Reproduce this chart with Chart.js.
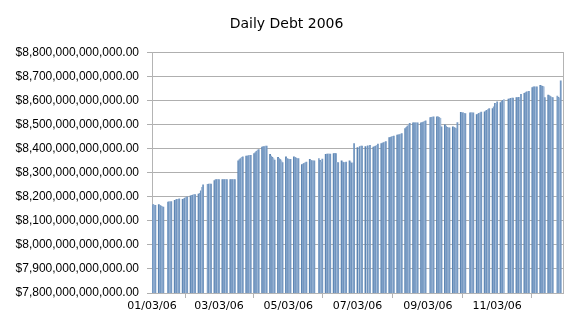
<!DOCTYPE html>
<html>
<head>
<meta charset="utf-8">
<title>Daily Debt 2006</title>
<script src="https://cdn.jsdelivr.net/npm/chart.js@4.4.1/dist/chart.umd.min.js"></script>
<style>
html, body { margin: 0; padding: 0; background: #fff; }
#wrap { width: 573px; height: 322px; }
</style>
</head>
<body>
<div id="wrap"><canvas id="debtChart" width="573" height="322"></canvas></div>
<script>

// -------------------------------------
// DATA (billions of dollars, one row per week, Mon..Fri, null = no figure)
// -------------------------------------

const firstMonday = "2006-01-02";

const weeklyDebt = [
[null, 8163, 8168, 8166, 8165],
[8168, 8165, 8162, 8160, 8158],
[null, 8178, 8180, 8180, 8181],
[8186, 8188, 8190, 8190, 8192],
[8190, 8192, 8195, 8198, 8200],
[8205, 8207, 8208, 8210, 8210],
[8212, 8215, 8225, 8240, 8250],
[null, 8252, 8253, 8253, 8253],
[8268, 8272, 8272, 8272, 8272],
[8272, 8272, 8272, 8272, 8272],
[8272, 8272, 8272, 8272, 8272],
[8350, 8355, 8360, 8365, 8367],
[8370, 8370, 8372, 8373, 8373],
[8380, 8385, 8390, 8395, 8397],
[8408, 8410, 8410, 8412, 8412],
[8377, 8370, 8365, 8360, 8353],
[8365, 8360, 8355, 8350, 8343],
[8367, 8360, 8358, 8356, 8356],
[8367, 8365, 8362, 8360, 8360],
[8335, 8337, 8340, 8343, 8345],
[8356, 8352, 8350, 8350, 8350],
[null, 8360, 8352, 8345, 8358],
[8377, 8378, 8378, 8378, 8378],
[8380, 8381, 8380, 8343, 8343],
[8350, 8345, 8343, 8343, 8345],
[8350, 8345, 8340, 8342, 8422],
[8405, null, 8410, 8412, 8412],
[8410, null, 8413, null, 8415],
[8408, 8410, 8412, 8415, 8420],
[8422, 8424, 8426, 8428, 8430],
[8447, 8448, 8450, 8452, 8453],
[8457, 8458, 8460, 8462, 8464],
[8485, 8490, 8495, 8500, 8506],
[8508, 8508, 8508, 8508, 8508],
[8508, 8510, 8512, 8515, 8517],
[null, 8530, 8531, 8532, 8533],
[8533, 8533, 8530, 8527, 8492],
[8500, 8495, 8490, 8488, 8488],
[8492, 8490, 8487, 8485, 8510],
[8552, 8550, 8550, 8548, 8547],
[null, 8550, 8550, 8550, 8550],
[8543, 8545, 8548, 8550, 8553],
[8554, 8558, 8560, 8565, 8568],
[8568, 8575, 8590, 8585, 8596],
[8593, 8598, 8602, 8605, null],
[8607, 8608, 8610, 8611, 8612],
[8614, 8614, 8615, null, 8627],
[8631, 8634, 8637, 8638, 8640],
[8655, 8658, 8658, 8657, 8658],
[8665, 8662, 8660, 8658, 8614],
[8624, 8622, 8618, 8615, 8614],
[null, 8620, 8615, 8610, 8683]
];

const xTickLabels = ["01/03/06", "03/03/06", "05/03/06", "07/03/06", "09/03/06", "11/03/06"];

const yMin = 7.8e12;
const yMax = 8.8e12;
const yStep = 1e11;

const dayColors = ["#5b84b2", "#86a5ca", "#6e93be", "#a0b9d7", "#7699c2"];


// -------------------------------------
// HELPERS
// -------------------------------------

const DAY = 86400000;
const yearStart = Date.UTC(2006, 0, 1);

function dayOfYear(ms){
return Math.round((ms - yearStart) / DAY);
}

function labelToDay(lbl){
const p = lbl.split("/");
return dayOfYear(Date.UTC(2000 + Number(p[2]), Number(p[0]) - 1, Number(p[1])));
}

function money(v){
return "$" + v.toLocaleString("en-US", {minimumFractionDigits: 2, maximumFractionDigits: 2});
}

const mondayDay = dayOfYear(Date.parse(firstMonday + "T00:00:00Z"));

const points = [];
const colors = [];

weeklyDebt.forEach((week, w) => {
week.forEach((b, d) => {
if(b === null) return;
points.push({x: mondayDay + w * 7 + d, y: b * 1e9});
colors.push(dayColors[d]);
});
});

const tickDays = xTickLabels.map(labelToDay);


// -------------------------------------
// CHART
// -------------------------------------

const ctx = document.getElementById("debtChart").getContext("2d");

new Chart(ctx, {

type: "bar",

data: {
datasets: [{
label: "Debt",
data: points,
backgroundColor: colors,
borderWidth: 0,
barPercentage: 1,
categoryPercentage: 1
}]
},

options: {
responsive: false,
animation: false,
layout: {
padding: {left: 0, right: 0, top: 0, bottom: 8}
},
plugins: {
legend: {display: false},
tooltip: {enabled: false},
title: {
display: true,
text: "Daily Debt 2006",
color: "#000",
font: {family: "DejaVu Sans", size: 14, weight: "normal"},
padding: {top: 16, bottom: 20}
}
},
scales: {
x: {
type: "linear",
offset: false,
min: labelToDay("01/03/06"),
max: 364,
grid: {
drawOnChartArea: false,
color: "#b4b4b4",
tickLength: 5
},
border: {color: "#b4b4b4"},
afterBuildTicks: (scale) => {
scale.ticks = tickDays.map(v => ({value: v}));
},
afterFit: (scale) => {
scale.height = 21;
},
ticks: {
autoSkip: false,
maxRotation: 0,
padding: 2,
color: "#000",
font: {family: "DejaVu Sans", size: 11},
callback: (v) => {
const i = tickDays.indexOf(v);
return i >= 0 ? xTickLabels[i] : "";
}
}
},
y: {
min: yMin,
max: yMax,
z: 1,
grid: {
color: "rgba(110,110,110,0.55)",
tickLength: 5
},
border: {color: "#b4b4b4"},
afterFit: (scale) => {
scale.width = 152;
},
ticks: {
stepSize: yStep,
padding: 8,
color: "#000",
font: {family: "Liberation Sans", size: 12},
callback: (v) => money(v)
}
},
// empty right axis: keeps the frame line and the 10px margin
edge: {
type: "linear",
position: "right",
min: 0,
max: 1,
grid: {display: false},
ticks: {display: false},
border: {display: true, color: "#b4b4b4"},
afterFit: (scale) => {
scale.width = 10;
}
}
}
}

});

</script>
</body>
</html>
